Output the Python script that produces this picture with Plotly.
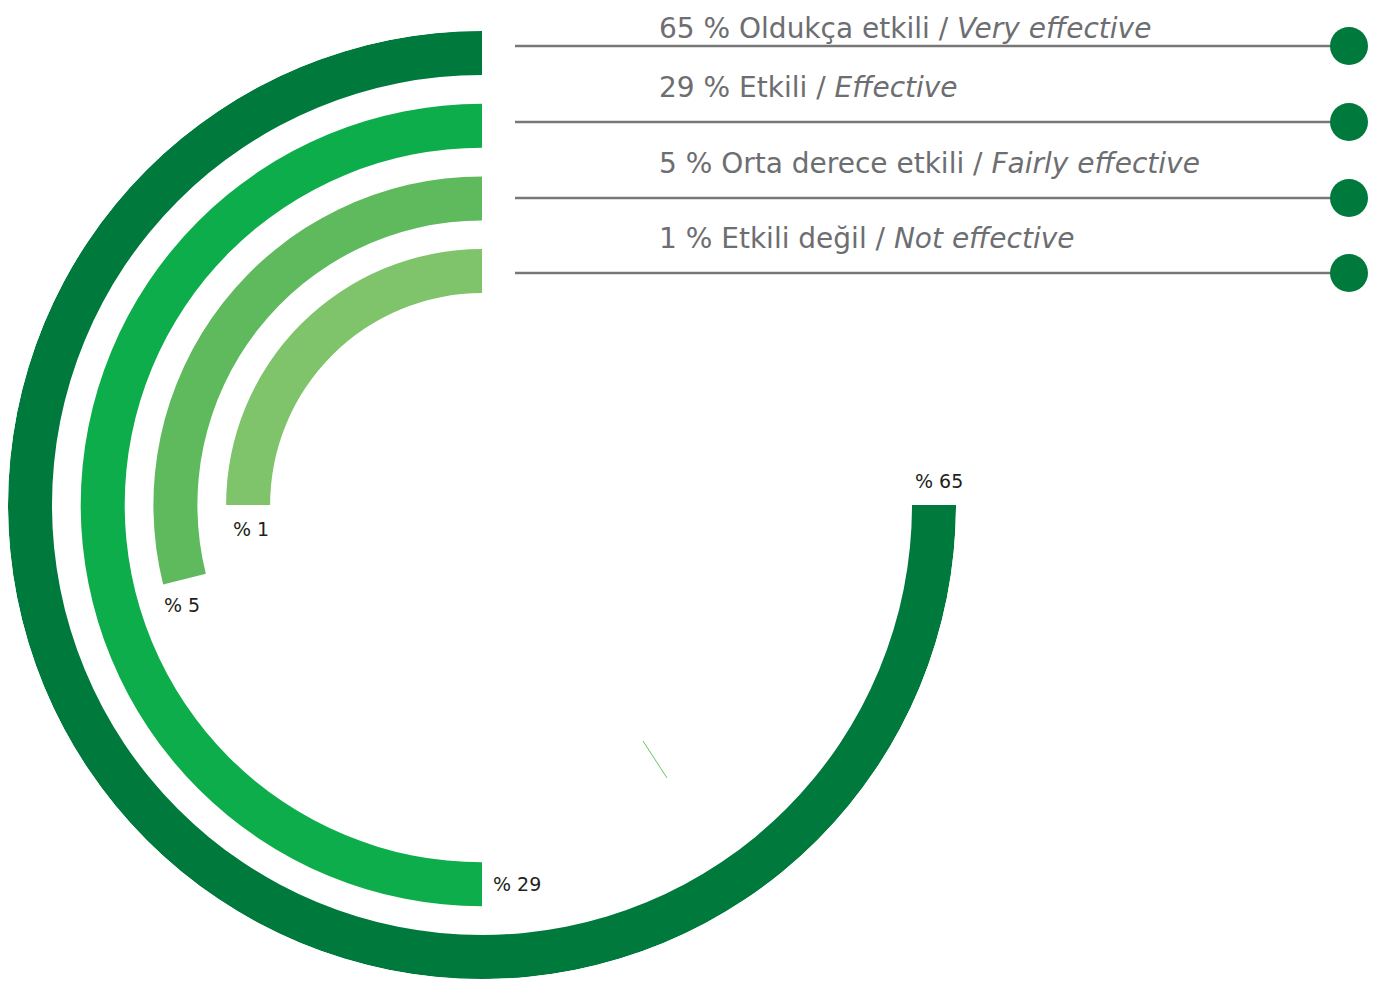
import math
import plotly.graph_objects as go

# ---- data ----
labels_tr = ["Oldukça etkili", "Etkili", "Orta derece etkili", "Etkili değil"]
labels_en = ["Very effective", "Effective", "Fairly effective", "Not effective"]
values = [65, 29, 5, 1]
arc_sweep_deg = [270, 180, 104, 90]   # arc length as drawn in the original graphic

# ---- style ----
W, H = 1385, 983
OFF = 8                    # page body margin around the plot div
colors = ["#007A3C", "#0EAD4B", "#5FBA5E", "#7FC46B"]
CX, CY = 482, 505          # centre in page px (from top-left)
R_OUT = 474
THICK = 44
STEP = 72.7

inner = [R_OUT - THICK - i * STEP for i in range(len(values))]

fig = go.Figure()

fig.add_trace(go.Barpolar(
    r=[THICK] * len(values),
    base=inner,
    theta=[s / 2 for s in arc_sweep_deg],
    width=arc_sweep_deg,
    marker=dict(color=colors, line=dict(width=0)),
    hoverinfo="skip",
    showlegend=False,
))

line_y = [46, 122, 198, 273]
for i, (v, tr, en) in enumerate(zip(values, labels_tr, labels_en)):
    y = line_y[i]
    fig.add_trace(go.Scatter(x=[515, 1345], y=[y, y], mode="lines",
                             line=dict(color="#777777", width=2.5),
                             hoverinfo="skip", showlegend=False))
    fig.add_trace(go.Scatter(x=[1349], y=[y], mode="markers",
                             marker=dict(color="#007A3C", size=38, line=dict(width=0)),
                             hoverinfo="skip", showlegend=False))
    ty = max(y - 35, 28)
    fig.add_annotation(x=657, y=ty, xref="x", yref="y", xanchor="left", yanchor="middle",
                       text=f"{v} % {tr} / <i>{en}</i>", showarrow=False,
                       font=dict(family="DejaVu Sans", size=28, color="#6D6E71"))

# value labels near arc ends
offsets = [(5, -24), (35, 0), (-3, 26), (3, 24)]
for i, v in enumerate(values):
    rm = inner[i] + THICK / 2
    th = math.radians(arc_sweep_deg[i])
    ex = CX - rm * math.sin(th)
    ey = CY - rm * math.cos(th)
    dx, dy = offsets[i]
    fig.add_annotation(x=ex + dx, y=ey + dy, xref="x", yref="y",
                       xanchor="center", yanchor="middle",
                       text=f"% {v}", showarrow=False,
                       font=dict(family="DejaVu Sans", size=19, color="#231F20"))

# small stray stroke present in the original artwork
fig.add_shape(type="line", x0=643, y0=741, x1=667, y1=778, xref="x", yref="y",
              line=dict(color="#5FC95F", width=1))

fcx, fcy = CX - OFF, H - (CY - OFF)
fig.update_layout(
    width=W, height=H,
    margin=dict(l=0, r=0, t=0, b=0),
    paper_bgcolor="white", plot_bgcolor="rgba(0,0,0,0)",
    xaxis=dict(range=[OFF, W + OFF], visible=False, domain=[0, 1], fixedrange=True),
    yaxis=dict(range=[H + OFF, OFF], visible=False, domain=[0, 1], fixedrange=True),
    polar=dict(
        domain=dict(x=[(fcx - R_OUT) / W, (fcx + R_OUT) / W],
                    y=[(fcy - R_OUT) / H, (fcy + R_OUT) / H]),
        bgcolor="rgba(0,0,0,0)",
        radialaxis=dict(range=[0, R_OUT], visible=False),
        angularaxis=dict(rotation=90, direction="counterclockwise", visible=False),
        hole=0,
    ),
    showlegend=False,
)

fig.write_html("out.html")
